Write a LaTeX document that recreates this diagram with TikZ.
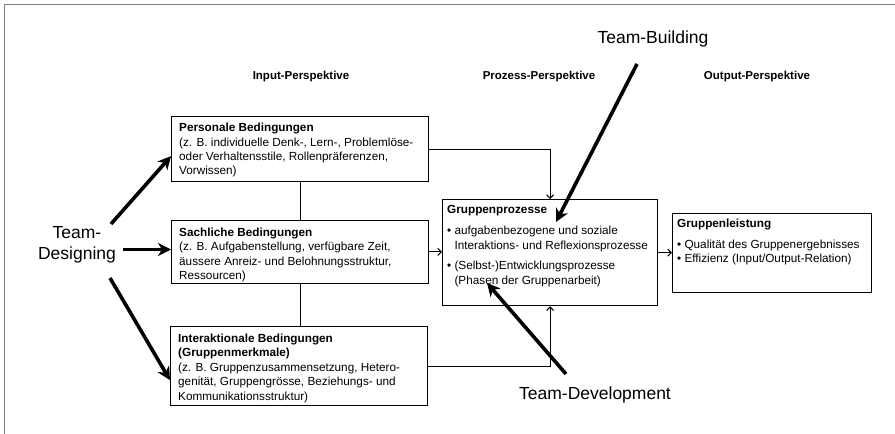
\documentclass[tikz,border=0pt]{standalone}
\usepackage{fontspec}
\setmainfont{Liberation Sans}
\usetikzlibrary{arrows.meta,calc}
\begin{document}
\begin{tikzpicture}[x=1pt,y=-1pt,
  box/.style={draw, line width=1.3pt, inner sep=0pt, anchor=north west},
  txt/.style={inner sep=0pt, anchor=base west, font=\fontsize{11.75}{14.4}\selectfont},
  persp/.style={font=\bfseries\fontsize{11.5}{14}\selectfont, inner sep=0pt},
  team/.style={font=\fontsize{17.5}{21}\selectfont, inner sep=0pt, align=center},
  link/.style={line width=1pt},
  flow/.style={line width=1pt, -{Straight Barb[length=3.5pt,width=7pt]}},
  big/.style={line width=3.6pt, -{Stealth[length=13pt,width=13pt,inset=4pt]}},
]
\useasboundingbox (0,0) rectangle (895,434);
\draw[gray, line width=1pt] (4.5,434) -- (4.5,4.5) -- (895,4.5);

% boxes
\node[box, minimum width=257pt, minimum height=65pt] (pers) at (171,116) {};
\node[box, minimum width=257pt, minimum height=63.5pt] (sach) at (171,219.5) {};
\node[box, minimum width=257pt, minimum height=79pt] (inter) at (170,326) {};
\node[box, minimum width=215pt, minimum height=106pt] (gp) at (442,199) {};
\node[box, minimum width=199pt, minimum height=79pt] (gl) at (672,213) {};

% texts
\node[txt] (perst) at (179,131.7) {\parbox[t]{300pt}{\raggedright\textbf{Personale Bedingungen}\\(z. B. individuelle Denk-, Lern-, Problemlöse-\\oder Verhaltensstile, Rollenpräferenzen,\\Vorwissen)}};
\node[txt] (sacht) at (179,236.5) {\parbox[t]{300pt}{\raggedright\textbf{Sachliche Bedingungen}\\(z. B. Aufgabenstellung, verfügbare Zeit,\\äussere Anreiz- und Belohnungsstruktur,\\Ressourcen)}};
\node[txt] (intert) at (178,342.5) {\parbox[t]{300pt}{\raggedright\textbf{Interaktionale Bedingungen}\\\textbf{(Gruppenmerkmale)}\\(z. B. Gruppenzusammensetzung, Hetero-\\genität, Gruppengrösse,  Beziehungs- und\\Kommunikationsstruktur)}};
\node[txt] (gpt) at (447,213) {\parbox[t]{300pt}{\raggedright\textbf{Gruppenprozesse}\\[7.5pt]• aufgabenbezogene und soziale\\\phantom{• }Interaktions- und Reflexionsprozesse\\[6pt]• (Selbst-)Entwicklungsprozesse\\\phantom{• }(Phasen der Gruppenarbeit)}};
\node[txt] (glt) at (677,227.3) {\parbox[t]{300pt}{\raggedright\textbf{Gruppenleistung}\\[6.5pt]• Qualität des Gruppenergebnisses\\• Effizienz (Input/Output-Relation)}};

% perspective labels
\node[persp] (pin) at (301,77) {Input-Perspektive};
\node[persp] (ppr) at (539,77) {Prozess-Perspektive};
\node[persp] (pout) at (757,77) {Output-Perspektive};

% team labels
\node[team] (td) at (77,245) {Team-\\Designing};
\node[team] (tb) at (653,39) {Team-Building};
\node[team] (tdev) at (595,395) {Team-Development};

% thin connectors
\draw[link] (pers.south) -- (pers.south |- sach.north);
\draw[link] (sach.south) -- (sach.south |- inter.north);
\draw[flow] (pers.east) -| (gp.north);
\draw[flow] (inter.east) -| (gp.south);
\draw[flow] (sach.east) -- (sach.east -| gp.west);
\draw[flow] (gp.east) -- (gp.east -| gl.west);

% thick arrows
\coordinate (a1) at (111,224);
\coordinate (a2) at (123,249.5);
\coordinate (a3) at (110,278);
\draw[big] (a1) -- ([yshift=-7pt]pers.west);
\draw[big] (a2) -- (a2 -| sach.west);
\draw[big] (a3) -- ([yshift=-14pt]inter.west);
\coordinate (b1) at (637,64);
\coordinate (b2) at (556,222);
\draw[big] (b1) -- (b2);
\coordinate (d1) at (566,374);
\coordinate (d2) at (487,283);
\draw[big] (d1) -- (d2);
\end{tikzpicture}
\end{document}
